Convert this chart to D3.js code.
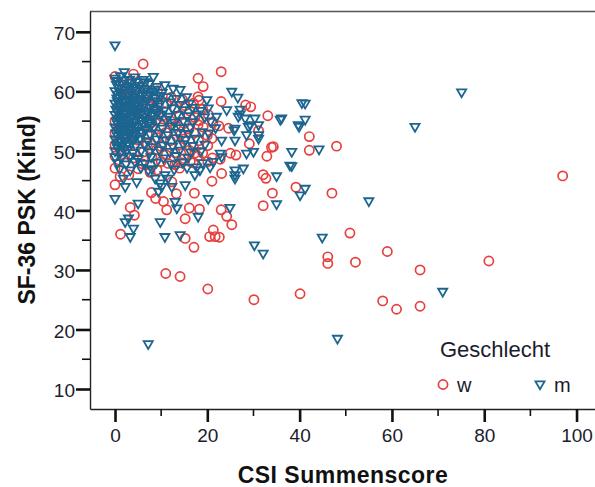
<!DOCTYPE html>
<html>
<head>
<meta charset="utf-8">
<script src="https://cdn.jsdelivr.net/npm/d3@7"></script>
<style>
  body { margin: 0; background: #fff; }
  text { font-family: "Liberation Sans", Arial, sans-serif; }
</style>
</head>
<body>
<div id="scatter"></div>
<script>
var svgWidth = 595;
var svgHeight = 487;

// tick values
var xTicks = [0, 20, 40, 60, 80, 100];
var xMinor = [10, 30, 50, 70, 90];
var yTicks = [10, 20, 30, 40, 50, 60, 70];
var yMinor = [15, 25, 35, 45, 55, 65];

// legend
var legendTitle = "Geschlecht";
var groups = ["w", "m"];

// w (red circles): [CSI Summenscore, SF-36 PSK]
var wPoints = [
  [0,62.5],[4.0,62.9],[1.1,61.0],[3.0,61.3],[6.2,60.8],[2.1,60.0],[5.3,59.8],[9.2,60.1],[1.0,59.0],[4.2,59.2],
  [8.1,58.8],[12.2,59.0],[14.6,58.6],[3.1,58.0],[7.2,57.8],[11.1,58.1],[15.2,57.6],[17.0,58.0],[0.6,57.0],[5.0,57.2],
  [9.3,56.8],[13.0,57.1],[16.2,56.7],[19.0,57.0],[2.0,56.0],[6.0,56.2],[10.1,55.8],[14.0,56.0],[17.3,55.6],[20.2,56.1],
  [0,55.0],[4.1,55.3],[8.0,54.8],[12.1,55.0],[15.0,54.6],[18.2,55.1],[21.2,54.7],[1.0,54.0],[6.1,54.3],[10.0,53.9],
  [13.1,54.2],[16.0,53.7],[19.1,54.0],[22.5,54.2],[0,53.0],[3.1,53.2],[7.0,52.8],[11.0,53.1],[14.2,52.7],[17.1,53.0],
  [20.0,52.6],[1.1,52.0],[5.0,51.8],[9.1,52.2],[12.0,51.7],[15.0,52.0],[18.1,51.7],[21.0,52.1],[0,51.0],[3.0,50.8],
  [7.0,51.2],[10.1,50.7],[14.0,51.0],[17.0,50.6],[20.1,50.9],[2.0,50.0],[6.1,49.8],[9.0,50.2],[13.0,49.7],[16.1,50.1],
  [19.0,49.6],[0,49.1],[4.0,48.8],[8.0,49.0],[11.1,49.3],[15.0,48.7],[18.0,49.1],[21.1,48.8],[2.0,48.0],[6.0,47.8],
  [10.0,48.2],[13.0,47.7],[17.0,48.0],[20.1,48.2],[0,47.1],[5.0,47.0],[7.6,47.6],[9.1,46.8],[14.0,47.1],[3.0,46.0],
  [11.5,47.9],[16.3,48.2],[14.4,48.0],[17.3,49.6],[22.8,48.6],[1.1,45.7],[7.6,46.4],
  [97.0,45.8],[81.0,31.5],[66.1,30.0],[66.1,23.9],[61.0,23.4],[58.0,24.8],[59.0,33.1],[52.1,31.3],[46.1,32.2],[46.1,31.1],
  [50.9,36.2],[40.1,26.0],[48.0,50.8],[47.0,42.9],[42.1,52.4],[42.1,50.1],[39.2,43.9],[30.1,25.0],[20.1,26.8],[11.0,29.4],
  [14.1,28.9],[17.1,33.8],[15.2,35.3],[1.2,36.0],[20.5,35.6],[21.7,35.6],[22.6,35.5],[21.3,36.7],[25.3,37.6],[24.2,39.0],
  [23.0,40.1],[15.2,38.6],[18.3,40.2],[16.1,40.4],[17.2,42.9],[11.2,40.1],[8.8,42.0],[10.5,41.5],[13.3,42.8],[3.3,40.5],
  [4.2,39.2],[0,44.3],[7.9,43.0],[12.3,44.8],[21.0,44.9],[23.1,46.2],[32.1,46.0],[32.7,45.4],[34.1,42.9],[32.1,40.8],
  [32.9,49.1],[33.9,50.6],[25.0,49.6],[26.2,49.3],[29.1,51.2],[31.1,53.4],[24.6,53.8],[33.1,55.9],[28.3,57.7],[29.4,57.4],
  [23.0,58.3],[18.0,59.1],[18.2,58.5],[19.1,60.8],[18.0,62.2],[23.0,63.3],[6.1,64.6],[18.0,54.4],[34.3,50.7]
];

// m (blue triangles)
var mPoints = [
  [0,62.2],[1.2,62.6],[2.0,63.3],[4.3,62.4],[6.1,62.0],[8.3,62.5],
  [0.3,61.2],[1.5,61.4],[2.7,60.9],[3.6,61.5],[5.2,61.0],[7.4,61.3],[9.1,60.8],[10.8,61.1],
  [0,60.1],[1.1,59.8],[2.2,60.3],[3.4,59.9],[4.8,60.2],[6.3,59.7],[7.9,60.0],[10.2,59.8],[12.6,60.5],[14.1,60.3],
  [0.4,58.9],[1.6,59.2],[2.8,58.7],[4.1,59.0],[5.5,58.8],[7.0,59.3],[8.8,58.9],[11.2,59.1],[13.3,58.8],[15.5,59.1],
  [0,58.0],[1.0,57.7],[2.3,58.2],[3.5,57.9],[4.7,58.3],[6.2,57.8],[7.8,58.1],[9.7,57.9],[11.9,58.2],[14.0,57.8],[16.1,58.0],[19.9,58.6],
  [0.2,57.0],[1.4,56.8],[2.6,57.2],[3.9,56.9],[5.1,57.1],[6.8,56.7],[8.5,57.0],[10.6,56.8],[12.4,57.2],[14.7,56.9],[16.8,57.3],[18.5,56.8],
  [0,56.1],[1.2,55.8],[2.4,56.2],[3.7,55.9],[4.9,56.3],[6.4,55.7],[8.1,56.0],[9.9,56.2],[11.6,55.8],[13.5,56.1],[15.6,55.9],[17.6,56.2],[19.4,55.7],
  [0.3,55.0],[1.5,54.8],[2.7,55.2],[4.2,54.9],[5.6,55.1],[7.3,54.7],[9.2,55.0],[11.0,55.3],[12.9,54.8],[14.8,55.1],[16.9,54.9],[20.7,55.0],
  [0,54.0],[1.1,53.8],[2.3,54.2],[3.6,53.9],[5.0,54.1],[6.7,53.7],[8.4,54.0],[10.3,53.8],[12.2,54.2],[14.2,53.9],[16.3,54.0],[21.8,53.9],
  [0.2,53.0],[1.3,52.8],[2.6,53.2],[4.0,52.9],[5.8,53.1],[7.6,52.8],[9.5,53.0],[11.5,52.7],[13.7,53.1],[15.9,52.9],[20.3,53.0],
  [0,52.0],[1.2,51.8],[2.5,52.2],[3.9,51.9],[5.4,52.1],[7.1,51.7],[9.0,52.0],[11.0,51.8],[13.1,52.2],[15.3,51.9],[17.5,52.1],
  [0.3,51.0],[1.5,50.8],[2.8,51.2],[4.5,50.9],[6.3,51.1],[8.2,50.7],[10.4,51.0],[12.5,50.8],[14.8,51.2],[16.8,50.9],[19.5,51.1],
  [0,50.0],[1.2,49.8],[2.6,50.2],[3.9,49.7],[5.7,50.1],[7.5,49.8],[9.6,50.2],[11.8,49.9],[14.0,50.1],[16.4,49.8],[18.6,50.0],
  [0,49.0],[1.4,48.8],[3.2,49.1],[5.0,48.7],[7.8,49.0],[10.5,48.8],[13.2,49.2],[15.8,48.9],
  [0.5,48.0],[2.4,47.8],[4.3,48.2],[6.5,47.9],[9.0,48.1],[12.2,47.8],[14.6,48.1],[19.0,48.0],
  [1.0,47.0],[3.3,46.8],[5.6,47.2],[8.0,47.0],[12.8,46.9],[15.6,47.2],
  // dense core, in between
  [0.6,61.8],[2.0,61.9],[3.1,62.0],[4.6,61.6],[6.6,61.6],[0.8,60.6],[1.9,60.7],[3.0,60.4],[4.2,60.7],[5.8,60.5],
  [6.9,60.4],[8.6,60.3],[0.6,59.5],[1.8,59.7],[3.0,59.4],[4.4,59.6],[6.0,59.3],[7.6,59.6],[9.9,59.3],[0.5,58.4],
  [1.8,58.5],[3.0,58.4],[4.2,58.6],[5.4,58.3],[7.0,58.5],[8.9,58.4],[0.6,57.4],[1.9,57.5],[3.2,57.5],[4.5,57.6],
  [5.9,57.4],[7.6,57.3],[9.4,57.5],[0.6,56.5],[1.9,56.4],[3.1,56.5],[4.3,56.6],[5.7,56.4],[7.3,56.3],[9.2,56.5],
  [0.6,55.5],[1.9,55.4],[3.3,55.5],[4.8,55.6],[6.5,55.3],[8.2,55.4],[0.6,54.5],[1.8,54.4],[3.0,54.6],[4.5,54.4],
  [6.2,54.6],[7.8,54.3],[0.6,53.5],[1.9,53.4],[3.2,53.6],[4.7,53.4],[6.5,53.5],[0.6,52.5],[1.9,52.4],[3.2,52.6],
  [4.7,52.5],[0.6,51.5],[2.1,51.6],[3.6,51.4],[0.6,50.5],[2.0,50.4],
  // outer points
  [0,67.8],[75.1,59.9],[65.0,54.1],[55.0,41.6],[71.0,26.4],[48.2,18.5],[44.9,35.5],[7.2,17.6],[30.2,34.2],[32.1,32.8],
  [41.2,58.0],[41.2,55.3],[39.9,54.1],[44.2,50.3],[38.3,49.9],[38.3,47.5],[41.2,43.7],[40.1,42.6],[36.1,55.5],[35.0,45.8],
  [35.0,41.1],[31.1,52.1],[28.5,52.7],[26.0,53.8],[26.0,51.8],[23.1,51.8],[29.3,54.4],[30.3,55.5],[27.1,57.0],[26.7,55.8],
  [24.2,56.9],[22.0,55.8],[20.2,57.2],[25.3,60.0],[26.6,59.0],[37.9,47.6],[30.0,49.9],[28.5,49.6],[26.0,46.8],[26.0,46.0],
  [26.0,45.4],[27.8,47.1],[23.1,49.0],[22.8,49.6],[21.3,48.2],[20.6,47.3],[17.7,47.3],[18.4,46.8],[17.3,46.0],[24.9,40.5],
  [20.2,42.0],[18.0,39.0],[15.2,44.3],[13.0,41.5],[13.4,40.4],[9.8,38.1],[10.8,35.6],[14.1,35.9],[2.9,38.7],[4.0,37.0],
  [3.3,35.6],[2.2,38.1],[5.0,41.2],[0,42.0],[2.2,44.0],[1.8,45.4],[4.7,44.8],[7.2,46.8],[9.8,44.6],[9.4,43.2],
  [10.1,44.0],[12.3,44.0],[11.5,45.4],[10.8,46.0],[8.7,45.4],[31.1,54.4],[28.9,54.1],[25.8,53.5],[27.1,56.2],[28.2,55.5],
  [39.7,54.4],[40.5,58.1],[35.8,55.3],[18.8,53.2],[31.1,52.7]
];

var redColor = "#e6403f";
var blueColor = "#1c6590";

var svg = d3.select("#scatter")
    .append("svg")
    .attr("width", svgWidth)
    .attr("height", svgHeight);

// scales (axis line at x=90, y=409; frame top at y=11)
var xScale = d3.scaleLinear()
    .domain([-5.42, 104])
    .range([90, 595]);

var yScale = d3.scaleLinear()
    .domain([6.64, 73.5])
    .range([409, 11]);

// frame top line
svg.append("line")
    .attr("x1", 90).attr("x2", 595)
    .attr("y1", 11.5).attr("y2", 11.5)
    .attr("stroke", "#555")
    .attr("stroke-width", 1.3);

// points: circles first, triangles on top
svg.append("g").selectAll("circle")
    .data(wPoints)
    .enter()
    .append("circle")
    .attr("cx", d => xScale(d[0]))
    .attr("cy", d => yScale(d[1]))
    .attr("r", 4.6)
    .attr("fill", "none")
    .attr("stroke", redColor)
    .attr("stroke-width", 1.7);

var tri = d3.symbol().type(d3.symbolTriangle).size(36);

svg.append("g").selectAll("path")
    .data(mPoints)
    .enter()
    .append("path")
    .attr("d", tri)
    .attr("transform", d => `translate(${xScale(d[0])},${yScale(d[1])}) rotate(180)`)
    .attr("fill", "none")
    .attr("stroke", blueColor)
    .attr("stroke-width", 1.8);

// axes
var bottomAxis = d3.axisBottom(xScale).tickValues(xTicks).tickSize(13).tickPadding(5).tickSizeOuter(0);
var leftAxis = d3.axisLeft(yScale).tickValues(yTicks).tickSize(14).tickPadding(1).tickSizeOuter(0);

var gx = svg.append("g")
    .attr("transform", "translate(0, 409)")
    .call(bottomAxis);

var gy = svg.append("g")
    .attr("transform", "translate(90, 0)")
    .call(leftAxis);

[gx, gy].forEach(g => {
    g.select(".domain").attr("stroke", "#222").attr("stroke-width", 1.4);
    g.selectAll(".tick line").attr("stroke", "#111").attr("stroke-width", 2.6);
    g.selectAll(".tick text")
        .attr("fill", "#1c1c2c")
        .style("font-size", "19px")
        .style("font-family", "'Liberation Sans', Arial, sans-serif");
});

gx.selectAll(".tick text").attr("dy", "0.78em");
gy.selectAll(".tick text").attr("dy", "0.4em");

// minor ticks
svg.append("g").selectAll("line")
    .data(xMinor)
    .enter()
    .append("line")
    .attr("x1", d => xScale(d)).attr("x2", d => xScale(d))
    .attr("y1", 409).attr("y2", 416)
    .attr("stroke", "#111")
    .attr("stroke-width", 1.6);

svg.append("g").selectAll("line")
    .data(yMinor)
    .enter()
    .append("line")
    .attr("y1", d => yScale(d)).attr("y2", d => yScale(d))
    .attr("x1", 82).attr("x2", 90)
    .attr("stroke", "#111")
    .attr("stroke-width", 1.6);

// axis titles
svg.append("text")
    .attr("x", 343)
    .attr("y", 483)
    .attr("text-anchor", "middle")
    .style("font-size", "23px")
    .style("font-weight", "bold")
    .style("letter-spacing", "0.5px")
    .attr("fill", "#111")
    .text("CSI Summenscore");

svg.append("text")
    .attr("transform", "translate(35, 210) rotate(-90)")
    .attr("text-anchor", "middle")
    .style("font-size", "23px")
    .style("font-weight", "bold")
    .attr("fill", "#111")
    .text("SF-36 PSK (Kind)");

// legend
svg.append("text")
    .attr("x", 440)
    .attr("y", 357)
    .style("font-size", "22px")
    .attr("fill", "#1c1c2c")
    .text(legendTitle);

svg.append("circle")
    .attr("cx", 443).attr("cy", 384.5)
    .attr("r", 4.6)
    .attr("fill", "none")
    .attr("stroke", redColor)
    .attr("stroke-width", 1.7);

svg.append("path")
    .attr("d", tri)
    .attr("transform", "translate(540, 384) rotate(180)")
    .attr("fill", "none")
    .attr("stroke", blueColor)
    .attr("stroke-width", 1.8);

svg.append("text")
    .attr("x", 457).attr("y", 392)
    .style("font-size", "20px")
    .attr("fill", "#1c1c2c")
    .text(groups[0]);

svg.append("text")
    .attr("x", 554).attr("y", 392)
    .style("font-size", "20px")
    .attr("fill", "#1c1c2c")
    .text(groups[1]);
</script>
</body>
</html>
